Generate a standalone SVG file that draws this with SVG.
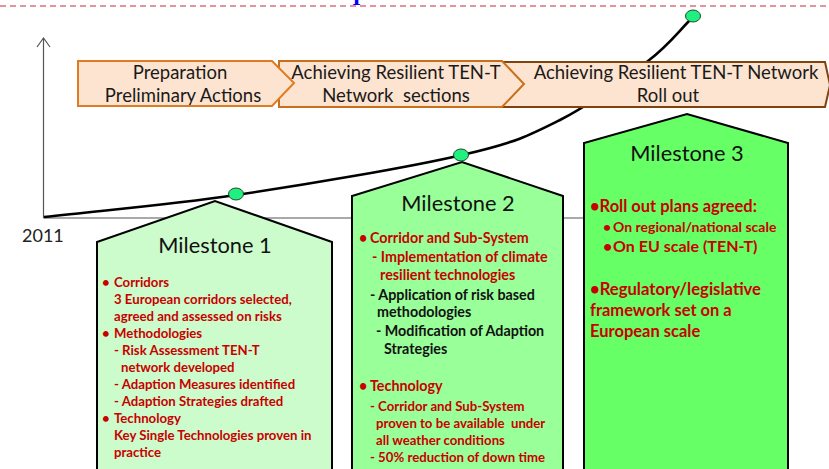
<svg xmlns="http://www.w3.org/2000/svg" width="829" height="469" viewBox="0 0 829 469">
  <style>
    .phase { fill: #fde4d0; stroke-width: 2; stroke-linejoin: miter; }
    .phase-text { font-family: Lato, "Liberation Sans", sans-serif; font-size: 18.5px; fill: #1a1a1a; text-anchor: middle; }
    .ms { stroke: #000; stroke-width: 2; }
    .ms-title { font-family: Lato, "Liberation Sans", sans-serif; font-size: 21.8px; fill: #111; text-anchor: middle; }
    .item { font-family: Lato, "Liberation Sans", sans-serif; font-weight: bold; font-size: 13.2px; fill: #c80000; }
    .item-b { font-family: Lato, "Liberation Sans", sans-serif; font-weight: bold; font-size: 14.3px; fill: #c80000; }
    .item-k { font-family: Lato, "Liberation Sans", sans-serif; font-weight: bold; font-size: 14.3px; fill: #111; }
    .item-l { font-family: Lato, "Liberation Sans", sans-serif; font-weight: bold; font-size: 16.5px; fill: #c80000; }
    .dot { fill: #20f080; stroke: #1c4a2c; stroke-width: 1; }
    .axis { stroke: #555; stroke-width: 1.2; fill: none; }
  </style>

  <rect width="829" height="469" fill="#fff"/>

  <!-- header rule and clipped title fragment -->
  <line x1="0" y1="6" x2="829" y2="6" stroke="#c8283c" stroke-width="1" stroke-dasharray="6 4"/>
  <text x="356.5" y="4.5" font-family="Liberation Serif, serif" font-weight="bold" font-size="22" fill="#0000ff" text-anchor="middle">I</text>

  <!-- time axis -->
  <g id="axis">
    <line class="axis" x1="43.5" y1="38" x2="43.5" y2="218"/>
    <polyline class="axis" points="37,47 43.5,38 50,47"/>
    <line class="axis" x1="43.5" y1="218" x2="586" y2="218"/>
    <text x="22" y="242" font-family="Lato, 'Liberation Sans', sans-serif" font-size="18" fill="#222">2011</text>
  </g>

  <!-- milestone blocks -->
  <g id="milestone1">
    <path class="ms" d="M97,475 L97,242 L215,201 L332,242 L332,475 Z" fill="#ccfccc"/>
    <text class="ms-title" x="215" y="253">Milestone 1</text>
    <text class="item" x="102" y="287">•</text>
    <text class="item" x="114" y="287">Corridors</text>
    <text class="item" x="114" y="304">3 European corridors selected,</text>
    <text class="item" x="114" y="321">agreed and assessed on risks</text>
    <text class="item" x="102" y="338">•</text>
    <text class="item" x="114" y="338">Methodologies</text>
    <text class="item" x="114" y="355">- Risk Assessment TEN-T</text>
    <text class="item" x="121" y="372">network developed</text>
    <text class="item" x="114" y="389">- Adaption Measures identified</text>
    <text class="item" x="114" y="406">- Adaption Strategies drafted</text>
    <text class="item" x="102" y="423">•</text>
    <text class="item" x="114" y="423">Technology</text>
    <text class="item" x="114" y="440">Key Single Technologies proven in</text>
    <text class="item" x="114" y="457">practice</text>
  </g>

  <g id="milestone2">
    <path class="ms" d="M352,475 L352,196 L462,162 L563,196 L563,475 Z" fill="#99ff99"/>
    <text class="ms-title" x="458" y="211">Milestone 2</text>
    <text class="item-b" x="359" y="243">•</text>
    <text class="item-b" x="370" y="243">Corridor and Sub-System</text>
    <text class="item-b" x="372" y="262">- Implementation of climate</text>
    <text class="item-b" x="380" y="280">resilient technologies</text>
    <text class="item-k" x="370" y="300">- Application of risk based</text>
    <text class="item-k" x="377" y="317">methodologies</text>
    <text class="item-k" x="376" y="336">- Modification of Adaption</text>
    <text class="item-k" x="384" y="354">Strategies</text>
    <text class="item-b" x="359" y="391">•</text>
    <text class="item-b" x="370" y="391">Technology</text>
    <text class="item" x="370" y="411">- Corridor and Sub-System</text>
    <text class="item" x="376" y="428" xml:space="preserve">proven to be available  under</text>
    <text class="item" x="376" y="445">all weather conditions</text>
    <text class="item" x="370" y="462">- 50% reduction of down time</text>
  </g>

  <g id="milestone3">
    <path class="ms" d="M584,475 L584,143 L687,114 L788,143 L788,475 Z" fill="#66ff66"/>
    <text class="ms-title" x="687" y="161">Milestone 3</text>
    <text class="item-l" x="590" y="212">•Roll out plans agreed:</text>
    <text class="item" x="603" y="232" style="font-size:14px">•</text>
    <text class="item" x="613" y="232" style="font-size:14px">On regional/national scale</text>
    <text class="item-l" x="603" y="252" style="font-size:16px">•</text>
    <text class="item-l" x="613" y="252" style="font-size:16px">On EU scale (TEN-T)</text>
    <text class="item-l" x="590" y="295" textLength="171" lengthAdjust="spacingAndGlyphs">•Regulatory/legislative</text>
    <text class="item-l" x="590" y="316">framework set on a</text>
    <text class="item-l" x="590" y="337">European scale</text>
  </g>

  <!-- progress curve and milestone markers -->
  <g id="connectors">
    <path d="M44,217 C108,209.7 166.3,205.3 236,195 C305.7,184.7 408,167.5 462,155 C516,142.5 529,135.7 560,120 C591,104.3 625.8,78.2 648,61 C670.2,43.8 678,31.7 693,17" fill="none" stroke="#000" stroke-width="2.6"/>
    <ellipse class="dot" cx="236" cy="194" rx="7.5" ry="6"/>
    <ellipse class="dot" cx="461" cy="155" rx="7.5" ry="6"/>
    <ellipse class="dot" cx="693" cy="16" rx="7.5" ry="6"/>
  </g>

  <!-- phase chevrons -->
  <g id="phase3">
    <path class="phase" d="M502,62 L825,62 L830,85 L825,107 L502,107 Z" stroke="#82420e"/>
    <text class="phase-text" x="676" y="79">Achieving Resilient TEN-T Network</text>
    <text class="phase-text" x="668" y="102">Roll out</text>
  </g>
  <g id="phase2">
    <path class="phase" d="M279,61 L502,61 L524,84 L502,107 L279,107 Z" stroke="#c8701e"/>
    <text class="phase-text" x="396" y="79">Achieving Resilient TEN-T</text>
    <text class="phase-text" x="396" y="102" xml:space="preserve">Network  sections</text>
  </g>
  <g id="phase1">
    <path class="phase" d="M78,61 L272,61 L294,83 L272,106 L78,106 Z" stroke="#e07b22"/>
    <text class="phase-text" x="180" y="79">Preparation</text>
    <text class="phase-text" x="183" y="102">Preliminary Actions</text>
  </g>
</svg>
